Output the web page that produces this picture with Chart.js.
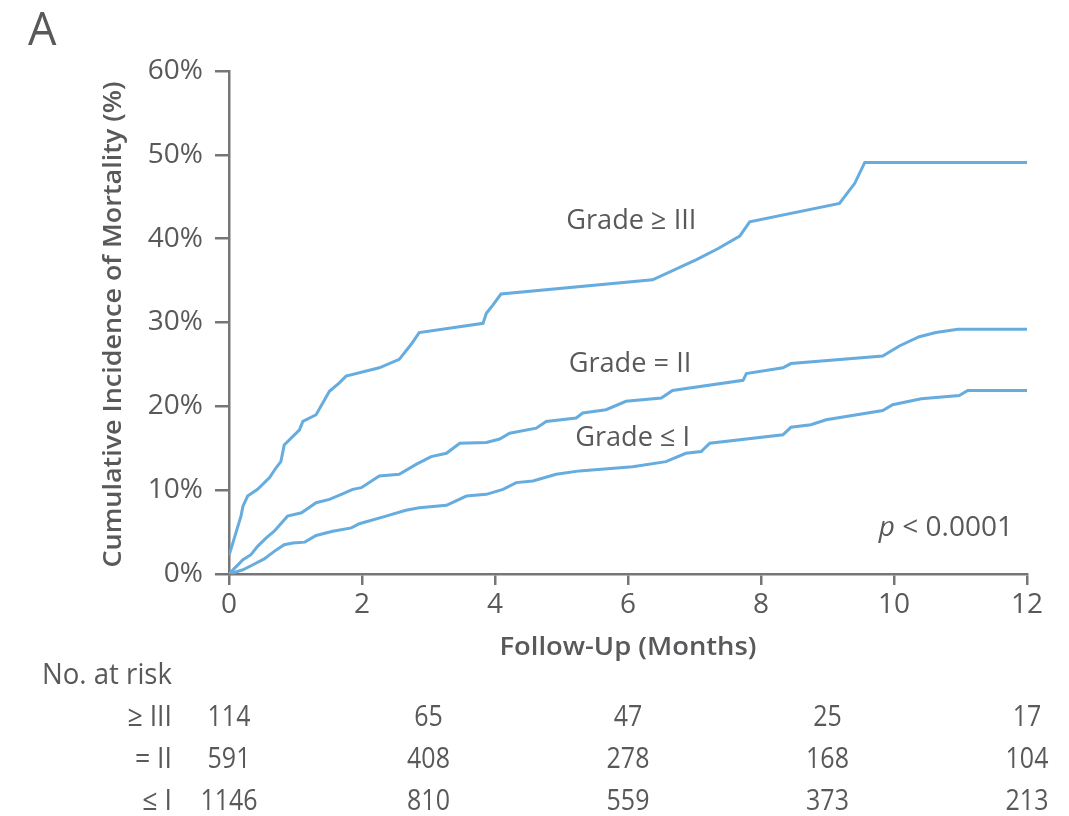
<!DOCTYPE html>
<html>
<head>
<meta charset="utf-8">
<script src="https://cdn.jsdelivr.net/npm/chart.js@4/dist/chart.umd.min.js"></script>
<style>
  html, body { margin: 0; padding: 0; background: #fff; }
  canvas { display: block; }
</style>
</head>
<body>
<canvas id="c" width="1069" height="816"></canvas>
<script>
// Cumulative incidence curves (months, %)
const gradeIIIMonths = [0, 0.18, 0.21, 0.28, 0.43, 0.61, 0.71, 0.78, 0.83, 1.06, 1.11, 1.31, 1.51, 1.66, 1.76, 2.26, 2.56, 2.74, 2.86, 3.82, 3.87, 3.97, 4.09, 6.37, 7.03, 7.35, 7.68, 7.83, 9.18, 9.41, 9.56, 12.0];
const gradeIIIPct    = [2.2, 6.9, 8.1, 9.3, 10.1, 11.5, 12.7, 13.4, 15.4, 17.2, 18.2, 19.0, 21.8, 22.8, 23.6, 24.6, 25.6, 27.4, 28.8, 29.9, 31.1, 32.1, 33.4, 35.1, 37.5, 38.8, 40.3, 42.0, 44.2, 46.6, 49.1, 49.1];

const gradeIIMonths = [0, 0.16, 0.21, 0.33, 0.43, 0.56, 0.68, 0.88, 1.09, 1.31, 1.51, 1.69, 1.86, 1.99, 2.26, 2.56, 2.82, 3.04, 3.27, 3.47, 3.87, 4.07, 4.22, 4.62, 4.77, 5.22, 5.32, 5.67, 5.97, 6.50, 6.67, 7.73, 7.78, 8.33, 8.45, 9.83, 10.08, 10.38, 10.63, 10.96, 12.0];
const gradeIIPct    = [0, 1.3, 1.7, 2.3, 3.3, 4.3, 5.1, 6.9, 7.3, 8.5, 8.9, 9.5, 10.1, 10.3, 11.7, 11.9, 13.1, 14.0, 14.4, 15.6, 15.7, 16.1, 16.8, 17.4, 18.2, 18.6, 19.2, 19.6, 20.6, 21.0, 21.9, 23.1, 23.9, 24.6, 25.1, 26.0, 27.2, 28.3, 28.8, 29.2, 29.2];

const gradeIMonths = [0, 0.21, 0.36, 0.53, 0.68, 0.83, 0.96, 1.14, 1.31, 1.56, 1.84, 1.96, 2.36, 2.66, 2.86, 3.27, 3.57, 3.87, 4.12, 4.32, 4.57, 4.92, 5.27, 6.07, 6.57, 6.87, 7.10, 7.23, 8.33, 8.45, 8.75, 8.98, 9.83, 9.98, 10.41, 10.98, 11.11, 12.0];
const gradeIPct    = [0, 0.5, 1.1, 1.8, 2.7, 3.5, 3.7, 3.8, 4.6, 5.1, 5.5, 6.0, 6.9, 7.6, 7.9, 8.2, 9.3, 9.5, 10.1, 10.9, 11.1, 11.9, 12.3, 12.8, 13.4, 14.4, 14.6, 15.6, 16.6, 17.5, 17.8, 18.4, 19.5, 20.2, 20.9, 21.3, 21.9, 21.9];

// Number-at-risk table
const riskMonths = [0, 3, 6, 9, 12];
const riskRowLabels = ['≥ III', '= II', '≤ I'];
const riskGradeIII = [114, 65, 47, 25, 17];
const riskGradeII  = [591, 408, 278, 168, 104];
const riskGradeI   = [1146, 810, 559, 373, 213];

// Axis ticks
const xTickStep = 2;
const yTickStep = 10;
const yMax = 60;

const curveLabels = ['Grade ≥ III', 'Grade = II', 'Grade ≤ I'];

const TEXT = '#58595b';
const AXIS = '#767676';
const CURVE = '#66acdf';
const FONT = '"Open Sans", "Noto Sans", sans-serif';

function toPoints(xs, ys) { return xs.map((x, i) => ({ x: x, y: ys[i] })); }

// Draws text squeezed horizontally by a factor (condensed look)
function condText(ctx, text, x, y, font, align, squeeze) {
  ctx.save();
  ctx.font = font;
  ctx.textBaseline = 'middle';
  ctx.textAlign = 'left';
  const w = ctx.measureText(text).width * squeeze;
  let x0 = x;
  if (align === 'center') x0 = x - w / 2;
  else if (align === 'right') x0 = x - w;
  ctx.translate(x0, y);
  ctx.scale(squeeze, 1);
  ctx.fillText(text, 0, 0);
  ctx.restore();
}

// Draws text centred at (cx, cy) stretched to a given width
function fitText(ctx, text, cx, cy, font, width) {
  ctx.save();
  ctx.font = font;
  const w = ctx.measureText(text).width;
  const s = width / w;
  ctx.textBaseline = 'middle';
  ctx.textAlign = 'center';
  ctx.translate(cx, cy);
  ctx.scale(s, 1);
  ctx.fillText(text, 0, 0);
  ctx.restore();
}

const annotations = {
  id: 'annotations',
  afterDraw(chart) {
    const ctx = chart.ctx;
    const xs = chart.scales.x;
    const ys = chart.scales.y;
    ctx.save();
    ctx.fillStyle = TEXT;

    // panel letter
    ctx.font = '500 45px ' + FONT;
    ctx.textBaseline = 'middle';
    ctx.textAlign = 'left';
    ctx.fillText('A', 28, 32);

    // axis titles
    ctx.save();
    ctx.translate(114, (ys.top + ys.bottom) / 2 + 2);
    ctx.rotate(-Math.PI / 2);
    fitText(ctx, 'Cumulative Incidence of Mortality (%)', 0, 0, '600 26px ' + FONT, 486);
    ctx.restore();
    fitText(ctx, 'Follow-Up (Months)', (xs.left + xs.right) / 2, 648, '600 26px ' + FONT, 257);

    // curve labels
    const lf = '400 28px ' + FONT;
    condText(ctx, curveLabels[0], xs.getPixelForValue(6.05), ys.getPixelForValue(42.1), lf, 'center', 0.97);
    condText(ctx, curveLabels[1], xs.getPixelForValue(6.03), ys.getPixelForValue(25.0), lf, 'center', 0.97);
    condText(ctx, curveLabels[2], xs.getPixelForValue(6.07), ys.getPixelForValue(16.2), lf, 'center', 0.97);

    // p value
    ctx.save();
    ctx.font = '400 28px ' + FONT;
    ctx.textBaseline = 'middle';
    ctx.textAlign = 'right';
    const rest = ' < 0.0001';
    const restW = ctx.measureText(rest).width;
    ctx.fillText(rest, 1013, 528);
    ctx.font = 'italic 400 28px ' + FONT;
    ctx.fillText('p', 1013 - restW, 528);
    ctx.restore();

    // number at risk
    const f = '400 29px ' + FONT;
    fitText(ctx, 'No. at risk', 107, 676, f, 130);
    const rows = [riskGradeIII, riskGradeII, riskGradeI];
    const rowY = [718, 760, 802];
    rows.forEach((row, r) => {
      condText(ctx, riskRowLabels[r], 172, rowY[r], f, 'right', 0.92);
      row.forEach((n, i) => {
        condText(ctx, String(n), xs.getPixelForValue(riskMonths[i]), rowY[r], f, 'center', 0.86);
      });
    });
    ctx.restore();
  }
};

const lineStyle = { showLine: true, pointRadius: 0, borderColor: CURVE, borderWidth: 3, tension: 0, fill: false };

new Chart(document.getElementById('c'), {
  type: 'scatter',
  data: {
    datasets: [
      Object.assign({ label: curveLabels[0], data: toPoints(gradeIIIMonths, gradeIIIPct) }, lineStyle),
      Object.assign({ label: curveLabels[1], data: toPoints(gradeIIMonths, gradeIIPct) }, lineStyle),
      Object.assign({ label: curveLabels[2], data: toPoints(gradeIMonths, gradeIPct) }, lineStyle)
    ]
  },
  options: {
    responsive: false,
    animation: false,
    events: [],
    layout: { padding: { left: 0, top: 71, right: 42, bottom: 182 } },
    plugins: { legend: { display: false }, tooltip: { enabled: false } },
    scales: {
      x: {
        type: 'linear', min: 0, max: 12,
        afterFit(s) { s.height = 60; },
        ticks: { stepSize: xTickStep, color: TEXT, font: { family: FONT, size: 28 }, padding: 3, maxRotation: 0 },
        grid: { drawOnChartArea: false, drawTicks: true, tickLength: 11, color: AXIS, lineWidth: 2.5 },
        border: { display: true, color: AXIS, width: 2.5 }
      },
      y: {
        min: 0, max: yMax,
        afterFit(s) { s.width = 229; },
        ticks: { stepSize: yTickStep, color: TEXT, font: { family: FONT, size: 28 }, padding: 12, callback: v => v + '%' },
        grid: { drawOnChartArea: false, drawTicks: true, tickLength: 14, color: AXIS, lineWidth: 2.5 },
        border: { display: true, color: AXIS, width: 2.5 }
      }
    }
  },
  plugins: [annotations]
});
</script>
</body>
</html>
